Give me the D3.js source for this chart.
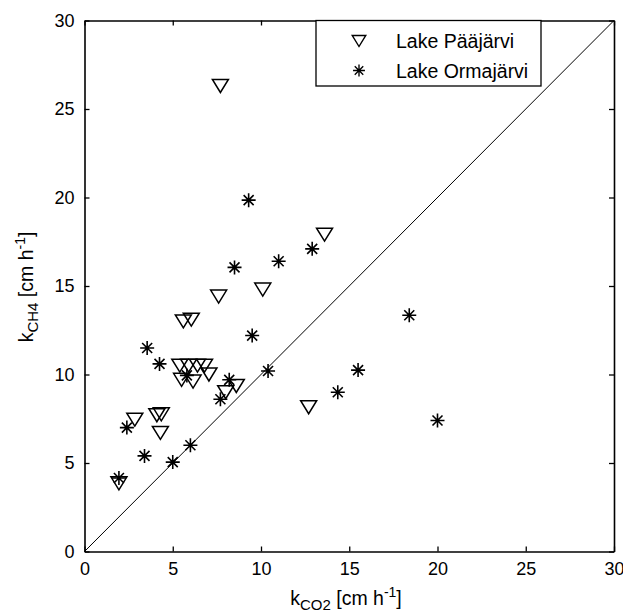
<!DOCTYPE html>
<html>
<head>
<meta charset="utf-8">
<script src="https://cdn.jsdelivr.net/npm/d3@7"></script>
<style>
  body { margin: 0; background: #fff; }
  svg text { font-family: "Liberation Sans", Arial, sans-serif; fill: #000; }
</style>
</head>
<body>
<svg width="623" height="615"></svg>
<script>
// Lake Pääjärvi (triangles)
var paaX = [7.7, 13.6, 10.1, 7.6, 5.6, 6.05, 5.4, 5.9, 6.4, 6.8, 7.05, 5.5, 6.15, 8.6, 8.0, 12.7, 2.85, 4.1, 4.35, 4.3, 1.95];
var paaY = [26.3, 17.9, 14.8, 14.4, 13.0, 13.1, 10.5, 10.5, 10.5, 10.5, 10.0, 9.7, 9.6, 9.35, 9.0, 8.15, 7.45, 7.7, 7.75, 6.7, 3.85];

// Lake Ormajärvi (stars)
var ormX = [9.3, 12.9, 11.0, 8.5, 18.4, 9.5, 3.55, 4.25, 10.4, 15.5, 8.2, 7.7, 14.35, 20.0, 2.4, 6.0, 3.4, 5.0, 1.95, 5.8];
var ormY = [19.85, 17.1, 16.4, 16.05, 13.35, 12.2, 11.5, 10.6, 10.2, 10.25, 9.7, 8.6, 9.0, 7.4, 7.0, 6.0, 5.4, 5.05, 4.15, 9.95];

var xTicks = [0, 5, 10, 15, 20, 25, 30];
var yTicks = [0, 5, 10, 15, 20, 25, 30];
var legendLabels = ["Lake Pääjärvi", "Lake Ormajärvi"];

var svg = d3.select("svg");
var plotL = 84.5, plotR = 614, plotT = 20.5, plotB = 551.5;

var x = d3.scaleLinear().domain([0, 30]).range([plotL, plotR]);
var y = d3.scaleLinear().domain([0, 30]).range([plotB, plotT]);

var triPath = "M-8,-6.5L8,-6.5L0,6.5Z";
var starPath = "M-7,0H7M0,-7V7M-5,-5L5,5M-5,5L5,-5";

// axes
function styleAxis(g) {
  g.attr("font-size", 18).attr("font-family", "Liberation Sans, Arial, sans-serif");
  g.select(".domain").attr("stroke", "#000").attr("stroke-width", 1.6);
  g.selectAll(".tick line").attr("stroke", "#000").attr("stroke-width", 1.3);
  g.selectAll(".tick text").attr("fill", "#000");
}

svg.append("g")
  .attr("transform", "translate(0," + plotB + ")")
  .call(d3.axisBottom(x).tickValues(xTicks).tickSizeInner(-5).tickSizeOuter(0).tickPadding(11))
  .call(styleAxis);

svg.append("g")
  .attr("transform", "translate(" + plotL + ",0)")
  .call(d3.axisLeft(y).tickValues(yTicks).tickSizeInner(-5).tickSizeOuter(0).tickPadding(10))
  .call(styleAxis);

svg.append("g")
  .attr("transform", "translate(0," + plotT + ")")
  .call(d3.axisTop(x).tickValues(xTicks).tickSizeInner(-5).tickSizeOuter(0).tickFormat(""))
  .call(styleAxis);

svg.append("g")
  .attr("transform", "translate(" + plotR + ",0)")
  .call(d3.axisRight(y).tickValues(yTicks).tickSizeInner(-5).tickSizeOuter(0).tickFormat(""))
  .call(styleAxis);

// 1:1 line
svg.append("line")
  .attr("x1", x(0)).attr("y1", y(0))
  .attr("x2", x(30)).attr("y2", y(30))
  .attr("stroke", "#000").attr("stroke-width", 1);

// data
var paa = paaX.map(function (d, i) { return { x: d, y: paaY[i] }; });
var orm = ormX.map(function (d, i) { return { x: d, y: ormY[i] }; });

svg.append("g").selectAll("path")
  .data(paa)
  .enter()
  .append("path")
  .attr("d", triPath)
  .attr("transform", function (d) { return "translate(" + x(d.x) + "," + y(d.y) + ")"; })
  .attr("fill", "none").attr("stroke", "#000").attr("stroke-width", 1.5);

svg.append("g").selectAll("path")
  .data(orm)
  .enter()
  .append("path")
  .attr("d", starPath)
  .attr("transform", function (d) { return "translate(" + x(d.x) + "," + y(d.y) + ")"; })
  .attr("fill", "none").attr("stroke", "#000").attr("stroke-width", 1.6);

// legend
var legend = svg.append("g");
legend.append("rect")
  .attr("x", 316).attr("y", plotT)
  .attr("width", 225).attr("height", 65.5)
  .attr("fill", "#fff").attr("stroke", "#000").attr("stroke-width", 1.3);

var rows = legend.selectAll("g.row")
  .data(legendLabels)
  .enter()
  .append("g")
  .attr("class", "row")
  .attr("transform", function (d, i) { return "translate(0," + (41 + i * 29.5) + ")"; });

rows.append("path")
  .attr("d", function (d, i) { return i === 0 ? triPath : starPath; })
  .attr("transform", "translate(359,0) scale(0.85)")
  .attr("fill", "none").attr("stroke", "#000").attr("stroke-width", 1.6);

rows.append("text")
  .attr("x", 396).attr("y", 7)
  .attr("font-size", 19.5)
  .text(function (d) { return d; });

// axis labels
function label(t, sub) {
  t.append("tspan").text("k");
  t.append("tspan").attr("font-size", 15).attr("dy", 5).text(sub);
  t.append("tspan").attr("dy", -5).text(" [cm h");
  t.append("tspan").attr("font-size", 14).attr("dy", -8).text("-1");
  t.append("tspan").attr("dy", 8).text("]");
}

svg.append("text")
  .attr("x", 346).attr("y", 605)
  .attr("text-anchor", "middle").attr("font-size", 19.5)
  .call(label, "CO2");

svg.append("text")
  .attr("transform", "translate(33,287) rotate(-90)")
  .attr("text-anchor", "middle").attr("font-size", 19.5)
  .call(label, "CH4");
</script>
</body>
</html>
